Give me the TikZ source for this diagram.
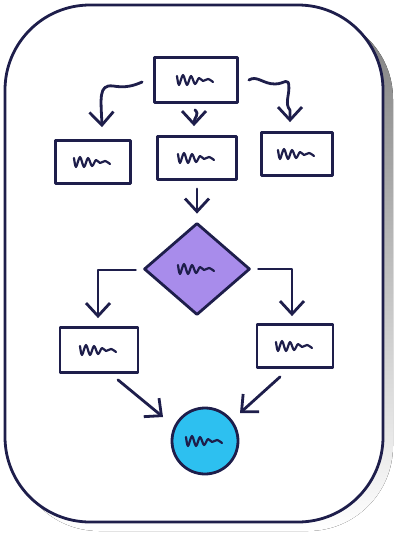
\documentclass[tikz,border=0pt]{standalone}
\usetikzlibrary{arrows.meta,shapes.geometric,calc}
\definecolor{ink}{HTML}{1E1E4B}
\definecolor{lav}{HTML}{A88CEB}
\definecolor{sky}{HTML}{2DC0F0}
\definecolor{shade}{HTML}{B8B2AA}
\tikzset{
  ink/.style={draw=ink,line width=2.8pt,line cap=round,line join=round},
  box/.style={ink,rectangle,minimum width=#1,minimum height=44pt,inner sep=0pt},
  box/.default=78pt,
  conn/.style={ink,-{Straight Barb[length=13pt,width=24pt,line width=2.8pt]}},
  pics/scribble/.style={code={
    \draw[draw=ink,line width=2.2pt,line cap=round,line join=round]
      plot[smooth,tension=0.55] coordinates {(-18,-4) (-16,5) (-12,-5) (-8,5) (-4,-4) (0,4) (4,-2) (8,1) (13,-1) (18,2)};
  }}
}
\begin{document}
\begin{tikzpicture}[x=1pt,y=-1pt]
\useasboundingbox (0,0) rectangle (400,535);
% frame
\fill[shade,rounded corners=85pt] (14,14) rectangle (393,531);
\path[ink,fill=white,rounded corners=85pt] (5,5) rectangle (383,522);
% nodes
\node[box=83pt,minimum height=45pt] (top) at (196,80) {};
\node[box=75pt,minimum height=43pt] (l1) at (93,162) {};
\node[box=79pt,minimum height=43pt] (m1) at (197,158) {};
\node[box=71pt,minimum height=43pt] (r1) at (297,154) {};
\node[ink,diamond,fill=lav,minimum width=106pt,minimum height=92pt,inner sep=0pt] (dec) at (197,269) {};
\node[box=78pt,minimum height=45pt] (l2) at (99,350) {};
\node[box=76pt,minimum height=43pt] (r2) at (295,346) {};
\node[ink,circle,fill=sky,minimum size=66pt,inner sep=0pt] (end) at (205,441) {};
% scribbles
\foreach \n in {top,l1,m1,r1,dec,l2,r2,end} \pic at ($(\n)+(-1,0)$) {scribble};
% connectors
\draw[conn] ($(top.west)+(-11,2)$) .. controls ($(top.west)+(-20,6)$) and ($(top.west)+(-28,8)$) .. ($(top.west)+(-40,6)$) .. controls ($(top.west)+(-55,4)$) and ($(l1.north)+(8,-40)$) .. ($(l1.north)+(9,-12)$);
\draw[conn] ($(top.south)+(-1,6)$) .. controls ($(top.south)+(4,11)$) and ($(m1.north)+(-3,-18)$) .. ($(m1.north)+(-3,-9)$);
\draw[conn] ($(top.east)+(10,0)$) .. controls ($(top.east)+(18,-5)$) and ($(top.east)+(24,4)$) .. ($(top.east)+(36,4)$) .. controls ($(top.east)+(46,4)$) and ($(top.east)+(50,-4)$) .. ($(top.east)+(50,8)$) .. controls ($(top.east)+(50,16)$) and ($(top.east)+(46,24)$) .. ($(top.east)+(51,30)$) .. controls ($(r1.north)+(-7,-18)$) .. ($(r1.north)+(-7,-9)$);
\draw[conn] ($(m1.south)+(0,8)$) -- ($(dec.north)+(0,-8)$);
\draw[conn] ($(dec.west)+(-7,1)$) -| ($(l2.north)+(-1,-8)$);
\draw[conn] ($(dec.east)+(7,0)$) -| ($(r2.north)+(-3,-7)$);
\draw[conn] ($(l2.south)+(19,6)$) -- ($(end)+(-42,-24)$);
\draw[conn] ($(r2.south)+(-15,8)$) -- ($(end)+(35,-28)$);
\end{tikzpicture}
\end{document}
